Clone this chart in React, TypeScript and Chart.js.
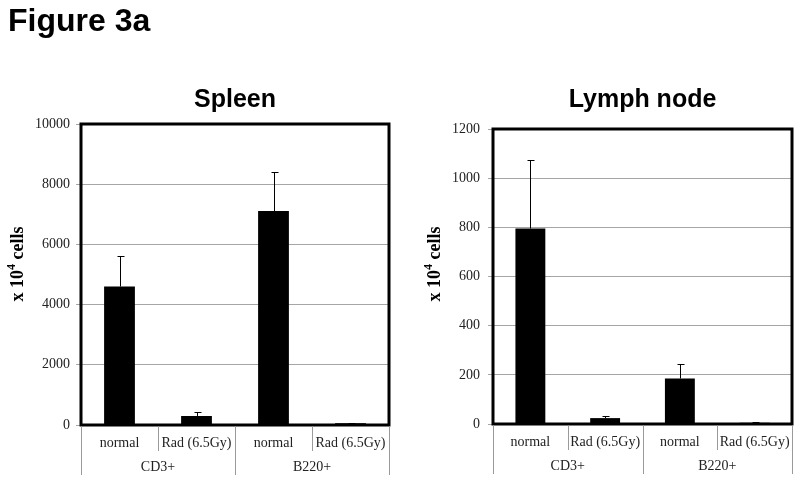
import React, { useEffect, useRef } from "react";
import { Chart, registerables } from "chart.js";

Chart.register(...registerables);

// ---------- data ----------
const categories = ["normal", "Rad (6.5Gy)", "normal", "Rad (6.5Gy)"];
const groups = ["CD3+", "B220+"];

const spleenValues = [4600, 300, 7110, 60];
const spleenErrors = [1000, 130, 1300, 20];
const spleenTicks = [0, 2000, 4000, 6000, 8000, 10000];

const lymphValues = [795, 24, 185, 5];
const lymphErrors = [280, 10, 60, 2];
const lymphTicks = [0, 200, 400, 600, 800, 1000, 1200];

const figureTitle = "Figure 3a";
const spleenTitle = "Spleen";
const lymphTitle = "Lymph node";

// ---------- styles ----------
const SERIF = '"Liberation Serif", "Times New Roman", serif';
const SANS = '"Liberation Sans", Arial, sans-serif';
const W = 400;
const H = 482;

type Area = { left: number; right: number; top: number; bottom: number };
type Spec = {
  title: string;
  values: number[];
  errors: number[];
  ticks: number[];
  area: Area;
  tickPad: number;
  yTitleX: number;
};

function buildChart(canvas: HTMLCanvasElement, spec: Spec) {
  const { title, values, errors, ticks, area, tickPad, yTitleX } = spec;

  const decor = {
    id: "decor",
    afterDatasetsDraw(chart: any) {
      const ctx = chart.ctx;
      const ys = chart.scales.y;
      const meta = chart.getDatasetMeta(0);
      ctx.save();
      ctx.strokeStyle = "#000";
      ctx.lineWidth = 1;
      meta.data.forEach((bar: any, i: number) => {
        const x = Math.round(bar.x) + 0.5;
        const y0 = ys.getPixelForValue(values[i]);
        const y1 = Math.round(ys.getPixelForValue(values[i] + errors[i])) + 0.5;
        ctx.beginPath();
        ctx.moveTo(x, y0);
        ctx.lineTo(x, y1);
        ctx.moveTo(x - 3, y1);
        ctx.lineTo(x + 4, y1);
        ctx.stroke();
      });
      ctx.restore();
    },
    afterDraw(chart: any) {
      const ctx = chart.ctx;
      const a = chart.chartArea;
      const xs = chart.scales.x;
      ctx.save();
      // frame
      ctx.strokeStyle = "#000";
      ctx.lineWidth = 3;
      ctx.strokeRect(a.left, a.top, a.right - a.left, a.bottom - a.top);

      // category dividers below the axis
      const n = categories.length;
      const step = xs.getPixelForValue(1) - xs.getPixelForValue(0);
      ctx.strokeStyle = "#9a9a9a";
      ctx.lineWidth = 1;
      for (let i = 0; i <= n; i++) {
        const raw = i < n ? xs.getPixelForValue(i) - step / 2 : xs.getPixelForValue(n - 1) + step / 2;
        const px = Math.round(raw) + 0.5;
        const outer = i % 2 === 0;
        ctx.beginPath();
        ctx.moveTo(px, a.bottom + 1.5);
        ctx.lineTo(px, a.bottom + (outer ? 50 : 26));
        ctx.stroke();
      }

      // group labels
      ctx.fillStyle = "#222";
      ctx.font = `14px ${SERIF}`;
      ctx.textAlign = "center";
      ctx.textBaseline = "middle";
      groups.forEach((g, gi) => {
        const cx = (xs.getPixelForValue(gi * 2) + xs.getPixelForValue(gi * 2 + 1)) / 2;
        ctx.fillText(g, cx, a.bottom + 42);
      });

      // chart title
      ctx.fillStyle = "#000";
      ctx.font = `bold 25px ${SANS}`;
      ctx.textAlign = "center";
      ctx.textBaseline = "alphabetic";
      ctx.fillText(title, (a.left + a.right) / 2, 107);

      // y axis title: x 10^4 cells
      ctx.translate(yTitleX, 264);
      ctx.rotate(-Math.PI / 2);
      const big = `bold 18px ${SERIF}`;
      const small = `bold 12px ${SERIF}`;
      ctx.font = big;
      const w1 = ctx.measureText("x 10").width;
      const w3 = ctx.measureText(" cells").width;
      ctx.font = small;
      const w2 = ctx.measureText("4").width;
      let x = -(w1 + w2 + w3) / 2;
      ctx.textAlign = "left";
      ctx.textBaseline = "middle";
      ctx.font = big;
      ctx.fillText("x 10", x, 0);
      x += w1;
      ctx.font = small;
      ctx.fillText("4", x, -6);
      x += w2;
      ctx.font = big;
      ctx.fillText(" cells", x, 0);
      ctx.restore();
    },
  };

  return new Chart(canvas, {
    type: "bar",
    data: {
      labels: categories,
      datasets: [
        {
          data: values,
          backgroundColor: "#000",
          borderWidth: 0,
          barPercentage: 0.4,
          categoryPercentage: 1,
        },
      ],
    },
    options: {
      responsive: false,
      animation: false,
      devicePixelRatio: 1,
      layout: { padding: { left: 0, right: W - area.right, top: area.top, bottom: 0 } },
      plugins: {
        legend: { display: false },
        tooltip: { enabled: false },
        title: { display: false },
      },
      scales: {
        x: {
          type: "category",
          offset: true,
          grid: { display: false },
          border: { display: false },
          ticks: {
            font: { family: SERIF, size: 14 },
            color: "#222",
            padding: 2,
            maxRotation: 0,
            autoSkip: false,
          },
          afterFit: (s: any) => {
            s.height = H - area.bottom;
          },
        },
        y: {
          min: ticks[0],
          max: ticks[ticks.length - 1],
          grid: { color: "#a6a6a6", tickLength: 5, drawTicks: true },
          border: { display: false },
          ticks: {
            stepSize: ticks[1] - ticks[0],
            font: { family: SERIF, size: 14 },
            color: "#222",
            padding: tickPad,
            callback: (v: any) => String(v),
          },
          afterFit: (s: any) => {
            s.width = area.left;
          },
        },
      },
    },
    plugins: [decor],
  } as any);
}

export default function App() {
  const leftRef = useRef<HTMLCanvasElement>(null);
  const rightRef = useRef<HTMLCanvasElement>(null);

  useEffect(() => {
    const c1 = buildChart(leftRef.current as HTMLCanvasElement, {
      title: spleenTitle,
      values: spleenValues,
      errors: spleenErrors,
      ticks: spleenTicks,
      area: { left: 81, right: 389, top: 124, bottom: 425 },
      tickPad: 6,
      yTitleX: 18,
    });
    const c2 = buildChart(rightRef.current as HTMLCanvasElement, {
      title: lymphTitle,
      values: lymphValues,
      errors: lymphErrors,
      ticks: lymphTicks,
      area: { left: 93, right: 392, top: 129, bottom: 424 },
      tickPad: 8,
      yTitleX: 35,
    });
    return () => {
      c1.destroy();
      c2.destroy();
    };
  }, []);

  return (
    <div
      style={{
        position: "absolute",
        left: 0,
        top: 0,
        width: 800,
        height: 482,
        background: "#fff",
        overflow: "hidden",
      }}
    >
      <canvas
        ref={leftRef}
        width={W}
        height={H}
        style={{ position: "absolute", left: 0, top: 0, width: W, height: H }}
      />
      <canvas
        ref={rightRef}
        width={W}
        height={H}
        style={{ position: "absolute", left: 400, top: 0, width: W, height: H }}
      />
      <div
        style={{
          position: "absolute",
          left: 8,
          top: 4,
          font: `bold 32px ${SANS}`,
          lineHeight: "32px",
          color: "#000",
          whiteSpace: "nowrap",
        }}
      >
        {figureTitle}
      </div>
    </div>
  );
}
